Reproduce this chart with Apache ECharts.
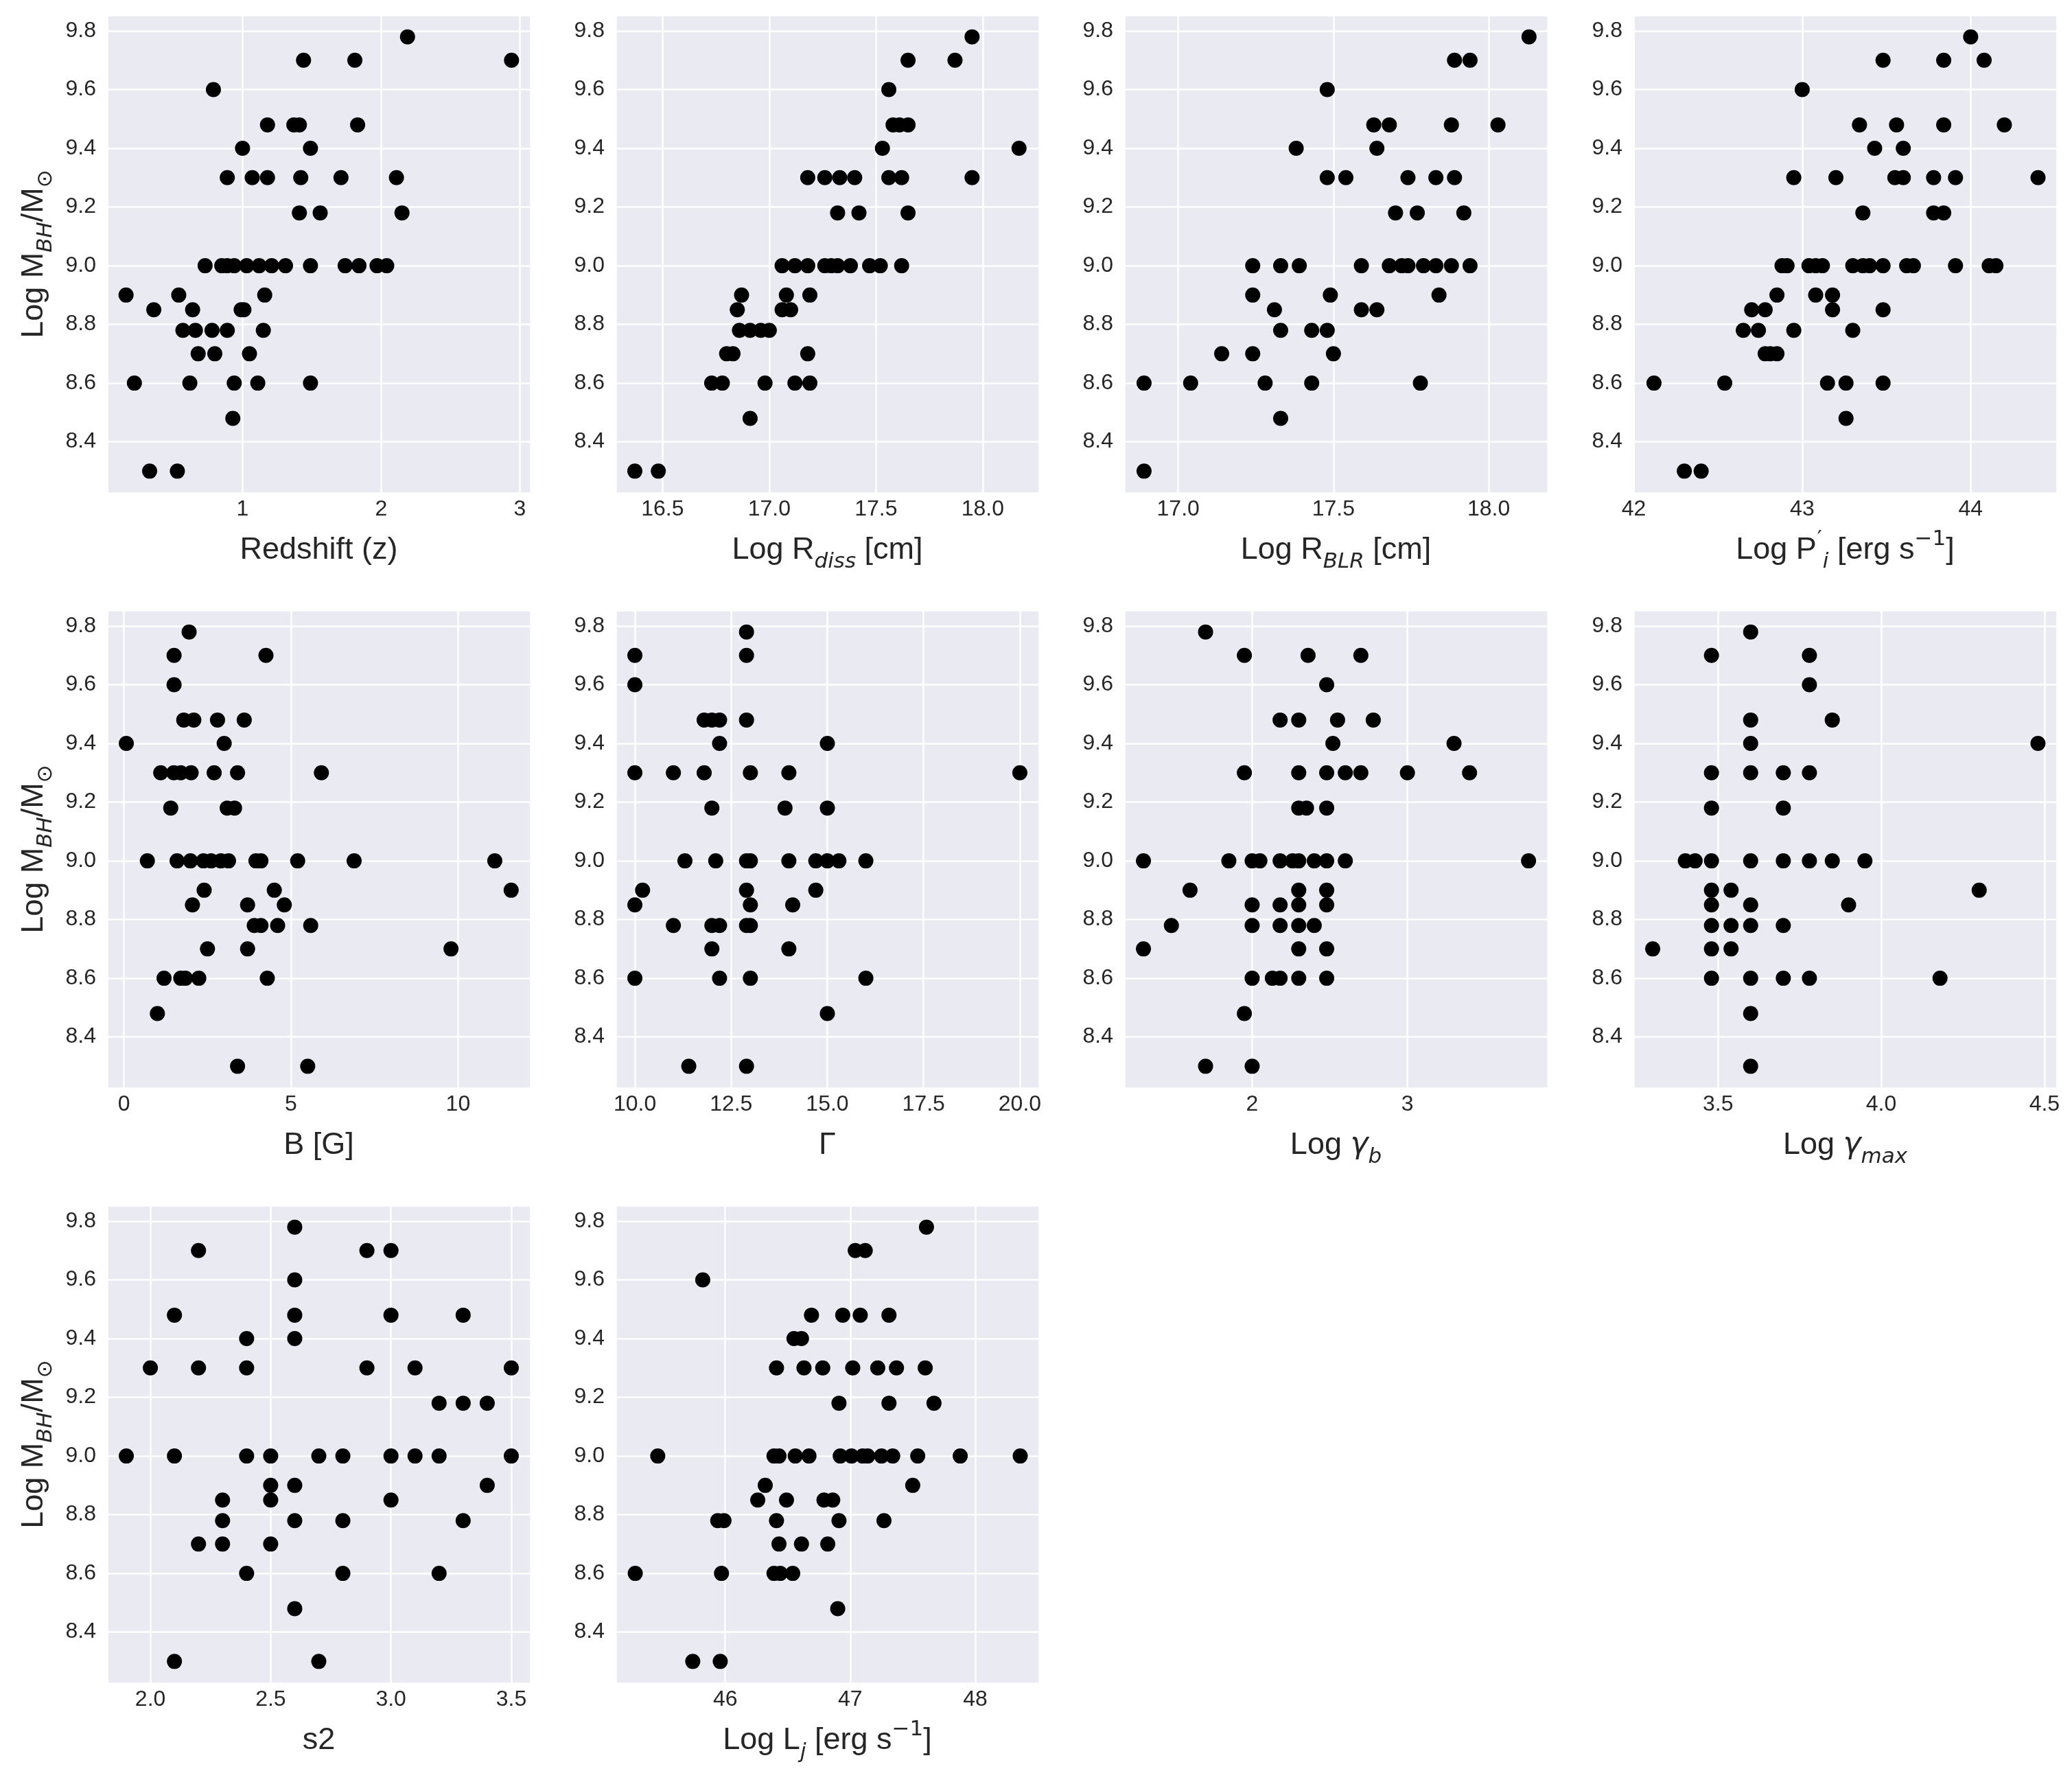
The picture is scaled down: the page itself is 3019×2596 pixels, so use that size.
<!DOCTYPE html>
<html>
<head>
<meta charset="utf-8">
<script src="https://cdn.jsdelivr.net/npm/echarts@6/dist/echarts.min.js"></script>
<style>
html,body{margin:0;padding:0;background:#fff;}
#chart{width:3019px;height:2596px;}
</style>
</head>
<body>
<div id="chart"></div>
<script>
// ---------------- DATA (x, Log M_BH/M_sun) ----------------
const redshiftPts = [
[2.19,9.78],
[1.44,9.70],[1.81,9.70],[2.94,9.70],
[0.79,9.60],
[1.18,9.48],[1.37,9.48],[1.41,9.48],[1.83,9.48],
[1.00,9.40],[1.49,9.40],
[0.89,9.30],[1.07,9.30],[1.18,9.30],[1.42,9.30],[1.71,9.30],[2.11,9.30],
[1.41,9.18],[1.56,9.18],[2.15,9.18],
[0.73,9.00],[0.85,9.00],[0.89,9.00],[0.94,9.00],[1.03,9.00],[1.12,9.00],[1.21,9.00],[1.31,9.00],[1.49,9.00],[1.74,9.00],[1.84,9.00],[1.97,9.00],[2.04,9.00],
[0.16,8.90],[0.54,8.90],[1.16,8.90],
[0.36,8.85],[0.64,8.85],[0.99,8.85],[1.01,8.85],
[0.57,8.78],[0.66,8.78],[0.78,8.78],[0.89,8.78],[1.15,8.78],
[0.68,8.70],[0.80,8.70],[1.05,8.70],
[0.22,8.60],[0.62,8.60],[0.94,8.60],[1.11,8.60],[1.49,8.60],
[0.93,8.48],
[0.33,8.30],[0.53,8.30]
];
const rdissPts = [
[17.95,9.78],
[17.65,9.70],[17.87,9.70],
[17.56,9.60],
[17.58,9.48],[17.61,9.48],[17.65,9.48],
[17.53,9.40],[18.17,9.40],
[17.18,9.30],[17.26,9.30],[17.33,9.30],[17.40,9.30],[17.56,9.30],[17.62,9.30],[17.95,9.30],
[17.32,9.18],[17.42,9.18],[17.65,9.18],
[17.06,9.00],[17.12,9.00],[17.18,9.00],[17.26,9.00],[17.29,9.00],[17.32,9.00],[17.38,9.00],[17.47,9.00],[17.52,9.00],[17.62,9.00],
[16.87,8.90],[17.08,8.90],[17.19,8.90],
[16.85,8.85],[17.06,8.85],[17.10,8.85],
[16.86,8.78],[16.91,8.78],[16.96,8.78],[17.00,8.78],
[16.80,8.70],[16.83,8.70],[17.18,8.70],
[16.73,8.60],[16.78,8.60],[16.98,8.60],[17.12,8.60],[17.19,8.60],
[16.91,8.48],
[16.37,8.30],[16.48,8.30]
];
const rblrPts = [
[18.13,9.78],
[17.89,9.70],[17.94,9.70],
[17.48,9.60],
[17.63,9.48],[17.68,9.48],[17.88,9.48],[18.03,9.48],
[17.38,9.40],[17.64,9.40],
[17.48,9.30],[17.54,9.30],[17.74,9.30],[17.83,9.30],[17.89,9.30],
[17.70,9.18],[17.77,9.18],[17.92,9.18],
[17.24,9.00],[17.33,9.00],[17.39,9.00],[17.59,9.00],[17.68,9.00],[17.72,9.00],[17.74,9.00],[17.79,9.00],[17.83,9.00],[17.88,9.00],[17.94,9.00],
[17.24,8.90],[17.49,8.90],[17.84,8.90],
[17.31,8.85],[17.59,8.85],[17.64,8.85],
[17.33,8.78],[17.43,8.78],[17.48,8.78],
[17.14,8.70],[17.24,8.70],[17.50,8.70],
[16.89,8.60],[17.04,8.60],[17.28,8.60],[17.43,8.60],[17.78,8.60],
[17.33,8.48],
[16.89,8.30]
];
const pjetPts = [
[44.00,9.78],
[43.48,9.70],[43.84,9.70],[44.08,9.70],
[43.00,9.60],
[43.34,9.48],[43.56,9.48],[43.84,9.48],[44.20,9.48],
[43.43,9.40],[43.60,9.40],
[42.95,9.30],[43.20,9.30],[43.55,9.30],[43.60,9.30],[43.78,9.30],[43.91,9.30],[44.40,9.30],
[43.36,9.18],[43.78,9.18],[43.84,9.18],
[42.88,9.00],[42.91,9.00],[43.04,9.00],[43.08,9.00],[43.12,9.00],[43.30,9.00],[43.36,9.00],[43.40,9.00],[43.48,9.00],[43.62,9.00],[43.66,9.00],[43.91,9.00],[44.11,9.00],[44.15,9.00],
[42.85,8.90],[43.08,8.90],[43.18,8.90],
[42.70,8.85],[42.78,8.85],[43.18,8.85],[43.48,8.85],
[42.65,8.78],[42.74,8.78],[42.95,8.78],[43.30,8.78],
[42.78,8.70],[42.81,8.70],[42.85,8.70],
[42.12,8.60],[42.54,8.60],[43.15,8.60],[43.26,8.60],[43.48,8.60],
[43.26,8.48],
[42.30,8.30],[42.40,8.30]
];
const bfieldPts = [
[1.95,9.78],
[1.50,9.70],[4.25,9.70],
[1.50,9.60],
[1.79,9.48],[2.09,9.48],[2.80,9.48],[3.60,9.48],
[0.07,9.40],[3.00,9.40],
[1.10,9.30],[1.49,9.30],[1.70,9.30],[2.01,9.30],[2.70,9.30],[3.40,9.30],[5.91,9.30],
[1.40,9.18],[3.09,9.18],[3.31,9.18],
[0.70,9.00],[1.59,9.00],[1.99,9.00],[2.38,9.00],[2.61,9.00],[2.90,9.00],[3.13,9.00],[3.95,9.00],[4.10,9.00],[5.20,9.00],[6.89,9.00],[11.10,9.00],
[2.40,8.90],[4.50,8.90],[11.59,8.90],
[2.05,8.85],[3.70,8.85],[4.80,8.85],
[3.90,8.78],[4.10,8.78],[4.60,8.78],[5.59,8.78],
[2.50,8.70],[3.70,8.70],[9.79,8.70],
[1.20,8.60],[1.70,8.60],[1.84,8.60],[2.24,8.60],[4.29,8.60],
[1.00,8.48],
[3.40,8.30],[5.50,8.30]
];
const gammaPts = [
[12.9,9.78],
[10.0,9.70],[12.9,9.70],
[10.0,9.60],
[11.8,9.48],[12.0,9.48],[12.2,9.48],[12.9,9.48],
[12.2,9.40],[15.0,9.40],
[10.0,9.30],[11.0,9.30],[11.8,9.30],[13.0,9.30],[14.0,9.30],[20.0,9.30],
[12.0,9.18],[13.9,9.18],[15.0,9.18],
[11.3,9.00],[12.1,9.00],[12.9,9.00],[13.0,9.00],[14.0,9.00],[14.7,9.00],[15.0,9.00],[15.3,9.00],[16.0,9.00],
[10.2,8.90],[12.9,8.90],[14.7,8.90],
[10.0,8.85],[13.0,8.85],[14.1,8.85],
[11.0,8.78],[12.0,8.78],[12.2,8.78],[12.9,8.78],[13.0,8.78],
[12.0,8.70],[14.0,8.70],
[10.0,8.60],[12.2,8.60],[13.0,8.60],[16.0,8.60],
[15.0,8.48],
[11.4,8.30],[12.9,8.30]
];
const gammaBPts = [
[1.70,9.78],
[1.95,9.70],[2.36,9.70],[2.70,9.70],
[2.48,9.60],
[2.18,9.48],[2.30,9.48],[2.55,9.48],[2.78,9.48],
[2.52,9.40],[3.30,9.40],
[1.95,9.30],[2.30,9.30],[2.48,9.30],[2.60,9.30],[2.70,9.30],[3.00,9.30],[3.40,9.30],
[2.30,9.18],[2.35,9.18],[2.48,9.18],
[1.30,9.00],[1.85,9.00],[2.00,9.00],[2.05,9.00],[2.18,9.00],[2.26,9.00],[2.30,9.00],[2.40,9.00],[2.48,9.00],[2.60,9.00],[3.78,9.00],
[1.60,8.90],[2.30,8.90],[2.48,8.90],
[2.00,8.85],[2.18,8.85],[2.30,8.85],[2.48,8.85],
[1.48,8.78],[2.00,8.78],[2.18,8.78],[2.30,8.78],[2.40,8.78],
[1.30,8.70],[2.30,8.70],[2.48,8.70],
[2.00,8.60],[2.13,8.60],[2.18,8.60],[2.30,8.60],[2.48,8.60],
[1.95,8.48],
[1.70,8.30],[2.00,8.30]
];
const gammaMaxPts = [
[3.60,9.78],
[3.48,9.70],[3.78,9.70],
[3.78,9.60],
[3.60,9.48],[3.85,9.48],
[3.60,9.40],[4.48,9.40],
[3.48,9.30],[3.60,9.30],[3.70,9.30],[3.78,9.30],
[3.48,9.18],[3.70,9.18],
[3.40,9.00],[3.43,9.00],[3.48,9.00],[3.60,9.00],[3.70,9.00],[3.78,9.00],[3.85,9.00],[3.95,9.00],
[3.48,8.90],[3.54,8.90],[4.30,8.90],
[3.48,8.85],[3.60,8.85],[3.90,8.85],
[3.48,8.78],[3.54,8.78],[3.60,8.78],[3.70,8.78],
[3.30,8.70],[3.48,8.70],[3.54,8.70],
[3.48,8.60],[3.60,8.60],[3.70,8.60],[3.78,8.60],[4.18,8.60],
[3.60,8.48],
[3.60,8.30]
];
const s2Pts = [
[2.6,9.78],
[2.2,9.70],[2.9,9.70],[3.0,9.70],
[2.6,9.60],
[2.1,9.48],[2.6,9.48],[3.0,9.48],[3.3,9.48],
[2.4,9.40],[2.6,9.40],
[2.0,9.30],[2.2,9.30],[2.4,9.30],[2.9,9.30],[3.1,9.30],[3.5,9.30],
[3.2,9.18],[3.3,9.18],[3.4,9.18],
[1.9,9.00],[2.1,9.00],[2.4,9.00],[2.5,9.00],[2.7,9.00],[2.8,9.00],[3.0,9.00],[3.1,9.00],[3.2,9.00],[3.5,9.00],
[2.5,8.90],[2.6,8.90],[3.4,8.90],
[2.3,8.85],[2.5,8.85],[3.0,8.85],
[2.3,8.78],[2.6,8.78],[2.8,8.78],[3.3,8.78],
[2.2,8.70],[2.3,8.70],[2.5,8.70],
[2.4,8.60],[2.8,8.60],[3.2,8.60],
[2.6,8.48],
[2.1,8.30],[2.7,8.30]
];
const ljetPts = [
[47.61,9.78],
[47.04,9.70],[47.12,9.70],
[45.82,9.60],
[46.69,9.48],[46.94,9.48],[47.08,9.48],[47.31,9.48],
[46.55,9.40],[46.61,9.40],
[46.41,9.30],[46.63,9.30],[46.78,9.30],[47.02,9.30],[47.22,9.30],[47.37,9.30],[47.60,9.30],
[46.91,9.18],[47.31,9.18],[47.67,9.18],
[45.46,9.00],[46.39,9.00],[46.43,9.00],[46.56,9.00],[46.67,9.00],[46.92,9.00],[47.01,9.00],[47.10,9.00],[47.14,9.00],[47.25,9.00],[47.34,9.00],[47.54,9.00],[47.88,9.00],[48.36,9.00],
[46.32,8.90],[47.50,8.90],
[46.26,8.85],[46.49,8.85],[46.79,8.85],[46.86,8.85],
[45.94,8.78],[45.99,8.78],[46.41,8.78],[46.91,8.78],[47.27,8.78],
[46.43,8.70],[46.61,8.70],[46.82,8.70],
[45.28,8.60],[45.97,8.60],[46.39,8.60],[46.44,8.60],[46.54,8.60],
[46.90,8.48],
[45.74,8.30],[45.96,8.30]
];

// axis ranges and tick steps
const xRanges = [[0.023,3.077],[16.28,18.264],[16.826,18.19],[41.998,44.512],[-0.506,12.17],[9.5,20.5],[1.176,3.903],[3.241,4.538],[1.82,3.58],[45.123,48.511]];
const xSteps = [1,0.5,0.5,1,5,2.5,1,0.5,0.5,1];
const xDecimals = [0,1,1,0,0,1,0,1,1,0];
const yRange = [8.226,9.854];
const yStep = 0.2;

// axis titles (rich text)
const xNames = [
  '{n|Redshift (z)}',
  '{n|Log R}{si|diss}{n| [cm]}',
  '{n|Log R}{si|BLR}{n| [cm]}',
  '{n|Log P}{pr|′}{si|i}{n| [erg s}{sp|−1}{n|]}',
  '{n|B [G]}',
  '{n|Γ}',
  '{n|Log }{gi|γ}{si|b}',
  '{n|Log }{gi|γ}{si|max}',
  '{n|s2}',
  '{n|Log L}{si|j}{n| [erg s}{sp|−1}{n|]}'
];
const yName = '{n|Log M}{si|BH}{n|/M}{su|⊙}';

// ---------------- LAYOUT / STYLE ----------------
const allData = [redshiftPts, rdissPts, rblrPts, pjetPts, bfieldPts, gammaPts, gammaBPts, gammaMaxPts, s2Pts, ljetPts];
const colLeft = [156, 897, 1638, 2380];
const rowTop = [22, 889, 1756];
const W = 617, H = 696;
const TXT = '#262626';
const BASE = 'Liberation Sans, Arial, sans-serif';
const MATH = 'DejaVu Sans, sans-serif';

const rich = {
  n: {fontSize: 45, lineHeight: 64, fontFamily: BASE, color: TXT},
  si: {fontSize: 31, lineHeight: 34, verticalAlign: 'bottom', fontStyle: 'italic', fontFamily: MATH, color: TXT},
  su: {fontSize: 31, lineHeight: 34, verticalAlign: 'bottom', fontFamily: MATH, color: TXT},
  sp: {fontSize: 31, lineHeight: 34, verticalAlign: 'top', fontFamily: MATH, color: TXT},
  pr: {fontSize: 31, lineHeight: 34, verticalAlign: 'top', fontFamily: MATH, color: TXT, width: 9},
  gi: {fontSize: 44, lineHeight: 64, fontStyle: 'italic', fontFamily: MATH, color: TXT}
};

const grids = [], xAxes = [], yAxes = [], series = [];
allData.forEach((pts, i) => {
  const r = Math.floor(i / 4), c = i % 4;
  grids.push({left: colLeft[c], top: rowTop[r], width: W, height: H, show: true,
    backgroundColor: '#EAEAF2', borderWidth: 0, containLabel: false});
  const dec = xDecimals[i];
  xAxes.push({type: 'value', gridIndex: i, min: xRanges[i][0], max: xRanges[i][1],
    minInterval: xSteps[i], maxInterval: xSteps[i], splitNumber: 4,
    axisLine: {show: false}, axisTick: {show: false},
    splitLine: {show: true, lineStyle: {color: '#ffffff', width: 2.5}},
    axisLabel: {show: true, showMinLabel: false, showMaxLabel: false, margin: 8, color: TXT,
      fontSize: 32, fontFamily: BASE, formatter: v => Number(v).toFixed(dec)},
    name: xNames[i], nameLocation: 'middle', nameGap: 52,
    nameTextStyle: {rich: rich, fontSize: 45, fontFamily: BASE, color: TXT}
  });
  const ya = {type: 'value', gridIndex: i, min: yRange[0], max: yRange[1],
    minInterval: yStep, maxInterval: yStep, splitNumber: 7,
    axisLine: {show: false}, axisTick: {show: false},
    splitLine: {show: true, lineStyle: {color: '#ffffff', width: 2.5}},
    axisLabel: {show: true, showMinLabel: false, showMaxLabel: false, margin: 16, color: TXT,
      fontSize: 32, fontFamily: BASE, formatter: v => Number(v).toFixed(1)}
  };
  if (c === 0) {
    ya.name = yName; ya.nameLocation = 'middle'; ya.nameGap = 74;
    ya.nameTextStyle = {rich: rich, fontSize: 45, fontFamily: BASE, color: TXT};
  }
  yAxes.push(ya);
  series.push({type: 'scatter', xAxisIndex: i, yAxisIndex: i, data: pts,
    symbol: 'circle', symbolSize: 22, itemStyle: {color: '#000000', opacity: 1},
    emphasis: {disabled: true}, silent: true});
});

const chart = echarts.init(document.getElementById('chart'), null, {renderer: 'canvas', width: 3019, height: 2596});
chart.setOption({
  backgroundColor: '#ffffff',
  animation: false,
  grid: grids, xAxis: xAxes, yAxis: yAxes, series: series
});
</script>
</body>
</html>
